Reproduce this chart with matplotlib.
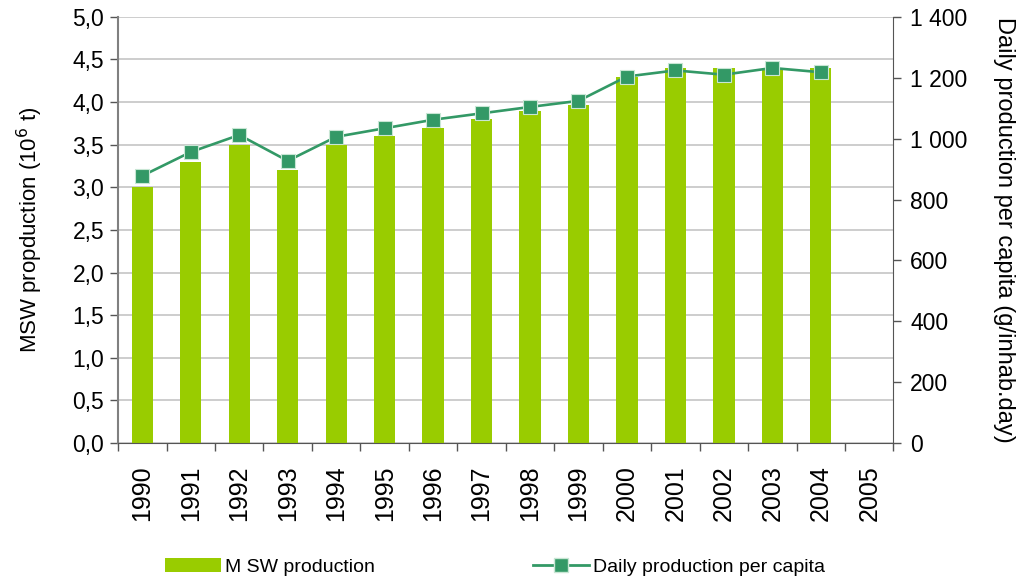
import matplotlib
matplotlib.use("Agg")
import matplotlib.pyplot as plt
import numpy as np
from matplotlib.lines import Line2D
from matplotlib.patches import Patch

years = [str(y) for y in range(1990, 2006)]
msw_production = [3.0, 3.3, 3.5, 3.2, 3.5, 3.6, 3.7, 3.8, 3.9, 3.97, 4.3, 4.4, 4.4, 4.4, 4.4, np.nan]
daily_per_capita = [878, 956, 1012, 927, 1006, 1034, 1062, 1083, 1104, 1124, 1204, 1224, 1210, 1232, 1218, np.nan]
left_ticks = [0.0, 0.5, 1.0, 1.5, 2.0, 2.5, 3.0, 3.5, 4.0, 4.5, 5.0]
right_ticks = [0, 200, 400, 600, 800, 1000, 1200, 1400]

plt.rcParams['font.family'] = ['Liberation Sans', 'DejaVu Sans']
BAR = '#99cc00'
LINE = '#339966'

fig = plt.figure(figsize=(10.27, 5.8), dpi=100)
ax = fig.add_axes([0.115, 0.236, 0.755, 0.735])
x = np.arange(len(years))
ax.bar(x, msw_production, width=0.44, color=BAR, zorder=2)
ax.set_xlim(-0.5, len(years) - 0.5)
ax.set_ylim(0, 5.0)
ax.set_yticks(left_ticks)
ax.set_yticklabels([f"{v:.1f}".replace('.', ',') for v in left_ticks], fontsize=16.5)
ax.yaxis.grid(True, color='#c0c0c0', linewidth=1.1, zorder=0)
ax.set_axisbelow(True)
ax.set_xticks(np.arange(-0.5, len(years), 1.0), minor=False)
ax.set_xticklabels([])
ax.set_xticks(x, minor=True)
ax.set_xticklabels(years, minor=True, rotation=90, fontsize=18)
ax.tick_params(axis='x', which='minor', length=0, pad=16)
ax.tick_params(axis='x', which='major', length=6, color='#555555', width=1)
ax.tick_params(axis='y', length=6, color='#555555', width=1, pad=4)
ax.set_ylabel('MSW propduction (10$^{6}$ t)', fontsize=16, labelpad=20)
for s in ['top', 'right']:
    ax.spines[s].set_visible(False)
ax.spines['left'].set_color('#808080')
ax.spines['left'].set_linewidth(1.5)
ax.spines['bottom'].set_color('#555555')

ax2 = ax.twinx()
ax2.plot(x, daily_per_capita, color=LINE, linewidth=1.9, marker='s', markersize=9.8,
         markerfacecolor=LINE, markeredgecolor='#c8e6d4', markeredgewidth=0.8, zorder=3)
ax2.set_ylim(0, 1400)
ax2.set_yticks(right_ticks)
ax2.set_yticklabels([f"{v:,}".replace(',', ' ') for v in right_ticks], fontsize=16.5)
ax2.tick_params(axis='y', length=6, color='#555555', width=1, pad=6)
for s in ['top', 'left', 'bottom']:
    ax2.spines[s].set_visible(False)
ax2.spines['right'].set_color('#555555')
ax2.set_ylabel('Daily production per capita (g/inhab.day)', fontsize=17, rotation=270, labelpad=34)

handles = [Patch(facecolor=BAR, edgecolor='none'),
           Line2D([0], [0], color=LINE, linewidth=2, marker='s', markersize=10,
                  markerfacecolor=LINE, markeredgecolor='#c8e6d4')]
fig.legend(handles, ['M SW production', 'Daily production per capita'],
           loc='center left', bbox_to_anchor=(0.1607, 0.0224), ncol=2, frameon=False,
           borderpad=0, borderaxespad=0,
           fontsize=14, handlelength=2.9, handleheight=0.7, handletextpad=0.2, columnspacing=8.1)

fig.savefig('out.png', dpi=100)
